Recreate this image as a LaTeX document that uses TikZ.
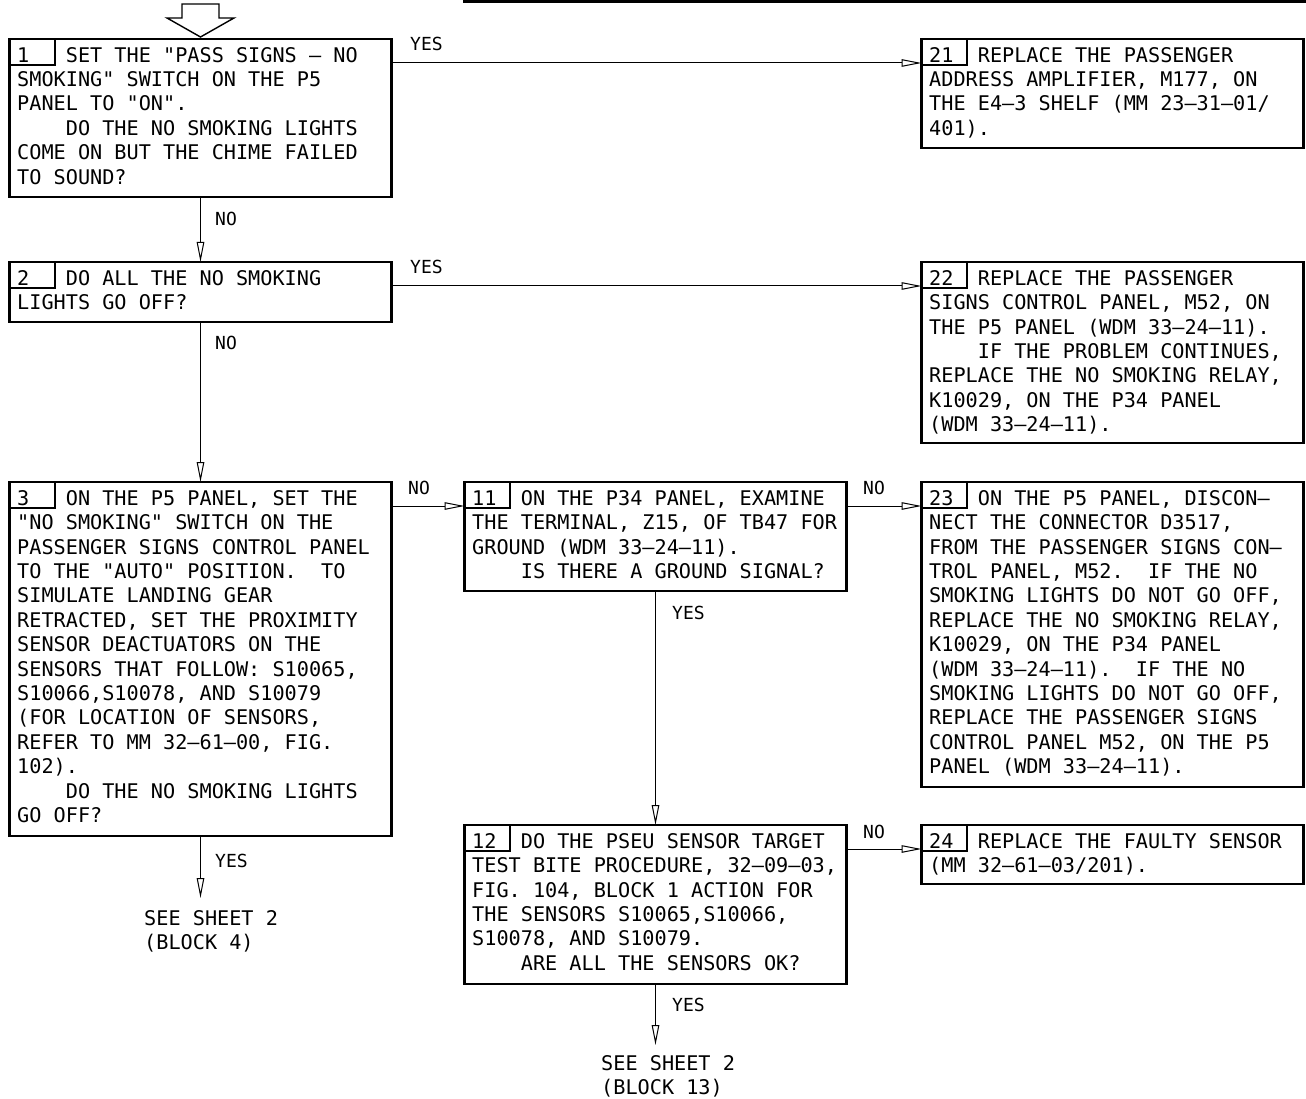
\documentclass[tikz,border=0pt]{standalone}
\usepackage{fontspec}
\setmainfont{DejaVu Sans Mono}
\usetikzlibrary{arrows.meta}
\frenchspacing
\newcommand\tabno[1]{\makebox[4\fontcharwd\font`\0][l]{#1}}
\newcommand\ind{\hspace*{4\fontcharwd\font`\0}}
\newcommand\fl{\rule{0pt}{16pt}}
\newcommand\dq{\XeTeXglyph\XeTeXcharglyph"22\relax}
\begin{document}
\begin{tikzpicture}[x=1pt,y=-1pt,
  box/.style={draw, line width=2.8pt, rectangle, anchor=north west, inner sep=0pt, outer sep=0pt, minimum width=382pt},
  txt/.style={anchor=north west, inner sep=0pt, align=left, font=\fontsize{20.2}{24.4}\selectfont},
  lbl/.style={anchor=base west, inner sep=0pt, font=\fontsize{18}{20}\selectfont},
  arr/.style={line width=1pt, -{Triangle[open,length=20pt,width=7.5pt]}},
  tabbox/.style={line width=1.2pt}]
\useasboundingbox (0,0) rectangle (1306,1099);

% top bar and entry arrow
\draw[line width=2.8pt] (463,1.2) -- (1306,1.2);
\draw[line width=1.4pt] (182,4) -- (219,4) -- (219,18) -- (234,18) -- (200.5,37) -- (167,18) -- (182,18) -- cycle;

% boxes
\node[box, minimum height=158pt] (b1) at (9.5,39) {};
\node[box, minimum height=109pt] (b21) at (921.5,39) {};
\node[box, minimum height=60pt] (b2) at (9.5,262) {};
\node[box, minimum height=181pt] (b22) at (921.5,262) {};
\node[box, minimum height=354pt] (b3) at (9.5,482) {};
\node[box, minimum height=109pt] (b11) at (464.5,482) {};
\node[box, minimum height=305pt] (b23) at (921.5,482) {};
\node[box, minimum height=159pt] (b12) at (464.5,825) {};
\node[box, minimum height=59pt] (b24) at (921.5,825) {};

% number tabs
\foreach \b in {b1,b21,b2,b22,b3,b11,b23,b12,b24}
  \draw[tabbox] (\b.north west) rectangle ++(45.5,26);

% texts
\node[txt] (t1) at ([xshift=7.5pt,yshift=-7pt]b1.north west) {\fl\tabno{1}SET THE \dq PASS SIGNS -- NO\\
SMOKING\dq\ SWITCH ON THE P5\\
PANEL TO \dq ON\dq.\\
\ind DO THE NO SMOKING LIGHTS\\
COME ON BUT THE CHIME FAILED\\
TO SOUND?};

\node[txt] (t21) at ([xshift=7.5pt,yshift=-7pt]b21.north west) {\fl\tabno{21}REPLACE THE PASSENGER\\
ADDRESS AMPLIFIER, M177, ON\\
THE E4--3 SHELF (MM 23--31--01/\\
401).};

\node[txt] (t2) at ([xshift=7.5pt,yshift=-7pt]b2.north west) {\fl\tabno{2}DO ALL THE NO SMOKING\\
LIGHTS GO OFF?};

\node[txt] (t22) at ([xshift=7.5pt,yshift=-7pt]b22.north west) {\fl\tabno{22}REPLACE THE PASSENGER\\
SIGNS CONTROL PANEL, M52, ON\\
THE P5 PANEL (WDM 33--24--11).\\
\ind IF THE PROBLEM CONTINUES,\\
REPLACE THE NO SMOKING RELAY,\\
K10029, ON THE P34 PANEL\\
(WDM 33--24--11).};

\node[txt] (t3) at ([xshift=7.5pt,yshift=-7pt]b3.north west) {\fl\tabno{3}ON THE P5 PANEL, SET THE\\
\dq NO SMOKING\dq\ SWITCH ON THE\\
PASSENGER SIGNS CONTROL PANEL\\
TO THE \dq AUTO\dq\ POSITION.\ \ TO\\
SIMULATE LANDING GEAR\\
RETRACTED, SET THE PROXIMITY\\
SENSOR DEACTUATORS ON THE\\
SENSORS THAT FOLLOW: S10065,\\
S10066,S10078, AND S10079\\
(FOR LOCATION OF SENSORS,\\
REFER TO MM 32--61--00, FIG.\\
102).\\
\ind DO THE NO SMOKING LIGHTS\\
GO OFF?};

\node[txt] (t11) at ([xshift=7.5pt,yshift=-7pt]b11.north west) {\fl\tabno{11}ON THE P34 PANEL, EXAMINE\\
THE TERMINAL, Z15, OF TB47 FOR\\
GROUND (WDM 33--24--11).\\
\ind IS THERE A GROUND SIGNAL?};

\node[txt] (t23) at ([xshift=7.5pt,yshift=-7pt]b23.north west) {\fl\tabno{23}ON THE P5 PANEL, DISCON--\\
NECT THE CONNECTOR D3517,\\
FROM THE PASSENGER SIGNS CON--\\
TROL PANEL, M52.\ \ IF THE NO\\
SMOKING LIGHTS DO NOT GO OFF,\\
REPLACE THE NO SMOKING RELAY,\\
K10029, ON THE P34 PANEL\\
(WDM 33--24--11).\ \ IF THE NO\\
SMOKING LIGHTS DO NOT GO OFF,\\
REPLACE THE PASSENGER SIGNS\\
CONTROL PANEL M52, ON THE P5\\
PANEL (WDM 33--24--11).};

\node[txt] (t12) at ([xshift=7.5pt,yshift=-7pt]b12.north west) {\fl\tabno{12}DO THE PSEU SENSOR TARGET\\
TEST BITE PROCEDURE, 32--09--03,\\
FIG. 104, BLOCK 1 ACTION FOR\\
THE SENSORS S10065,S10066,\\
S10078, AND S10079.\\
\ind ARE ALL THE SENSORS OK?};

\node[txt] (t24) at ([xshift=7.5pt,yshift=-7pt]b24.north west) {\fl\tabno{24}REPLACE THE FAULTY SENSOR\\
(MM 32--61--03/201).};

% connectors
\draw[arr] ([yshift=-24pt]b1.north east) -- ([yshift=-24pt]b21.north west);
\draw[arr] (b1.south) -- (b2.north);
\draw[arr] ([yshift=-24pt]b2.north east) -- ([yshift=-24pt]b22.north west);
\draw[arr] (b2.south) -- (b3.north);
\draw[arr] ([yshift=-24pt]b3.north east) -- ([yshift=-24pt]b11.north west);
\draw[arr] ([yshift=-24pt]b11.north east) -- ([yshift=-24pt]b23.north west);
\draw[arr] (b11.south) -- (b12.north);
\draw[arr] ([yshift=-24pt]b12.north east) -- ([yshift=-24pt]b24.north west);
\coordinate (e3) at (200.5,898);
\draw[arr] (b3.south) -- (e3);
\coordinate (e12) at (655.5,1045);
\draw[arr] (b12.south) -- (e12);

% labels
\node[lbl] (y1) at (410,51) {YES};
\node[lbl] (n1) at (215,226) {NO};
\node[lbl] (y2) at (410,273) {YES};
\node[lbl] (n2) at (215,349) {NO};
\node[lbl] (n3) at (408,494) {NO};
\node[lbl] (n11) at (863,494) {NO};
\node[lbl] (y11) at (672,619) {YES};
\node[lbl] (n12) at (863,838) {NO};
\node[lbl] (y3) at (215,867) {YES};
\node[lbl] (y12) at (672,1011) {YES};

% off-page references
\node[txt] (s4) at (144,909) {\fl SEE SHEET 2\\(BLOCK 4)};
\node[txt] (s13) at (601,1054) {\fl SEE SHEET 2\\(BLOCK 13)};
\end{tikzpicture}
\end{document}
